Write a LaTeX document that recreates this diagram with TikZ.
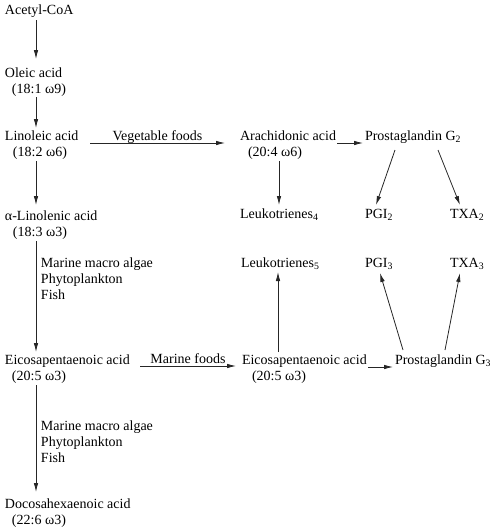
\documentclass[tikz,border=0pt]{standalone}
\usepackage{fontspec}
\setmainfont{Liberation Serif}
\usetikzlibrary{arrows.meta,calc}
\tikzset{
  lbl/.style={inner sep=0pt, outer sep=0pt, anchor=base west, align=left, font=\fontsize{14}{16}\selectfont},
  flbl/.style={inner sep=0pt, outer sep=0pt, anchor=base, yshift=3pt, font=\fontsize{14}{16}\selectfont},
  arr/.style={line width=0.8pt, draw=black!85, -{Latex[length=9pt,width=4.5pt]}},
}
\newcommand{\ind}[1]{\hspace*{#1pt}}
\begin{document}
\begin{tikzpicture}[x=1pt,y=-1pt]
\useasboundingbox (0,0) rectangle (497,528);
% left column (anchor = baseline of last line)
\node[lbl] (acetyl) at (5,14) {Acetyl-CoA};
\node[lbl] (oleic) at (5,93) {Oleic acid\\\ind{7}(18:1 ω9)};
\node[lbl] (linoleic) at (5,156) {Linoleic acid\\\ind{8}(18:2 ω6)};
\node[lbl] (alin) at (5,236) {α-Linolenic acid\\\ind{8}(18:3 ω3)};
\node[lbl] (src1) at (41,299) {Marine macro algae\\Phytoplankton\\Fish};
\node[lbl] (epa) at (5,380) {Eicosapentaenoic acid\\\ind{7}(20:5 ω3)};
\node[lbl] (src2) at (41,462) {Marine macro algae\\Phytoplankton\\Fish};
\node[lbl] (dha) at (5,524) {Docosahexaenoic acid\\\ind{7}(22:6 ω3)};
% right part
\node[lbl] (arach) at (240,156) {Arachidonic acid\\\ind{8}(20:4 ω6)};
\node[lbl] (pgg2) at (365,140) {Prostaglandin G\textsubscript{2}};
\node[lbl] (leuko4) at (240,218) {Leukotrienes\textsubscript{4}};
\node[lbl] (pgi2) at (365,218) {PGI\textsubscript{2}};
\node[lbl] (txa2) at (450,218) {TXA\textsubscript{2}};
\node[lbl] (leuko5) at (241,267) {Leukotrienes\textsubscript{5}};
\node[lbl] (pgi3) at (365,267) {PGI\textsubscript{3}};
\node[lbl] (txa3) at (450,267) {TXA\textsubscript{3}};
\node[lbl] (epar) at (242,380) {Eicosapentaenoic acid\\\ind{10}(20:5 ω3)};
\node[lbl] (pgg3) at (395,364) {Prostaglandin G\textsubscript{3}};
% vertical arrows, left column
\draw[arr] ($(acetyl.base west)+(31,6)$) -- ($(oleic.base west)+(31,-34)$);
\draw[arr] ($(oleic.base west)+(31,4)$) -- ($(linoleic.base west)+(31,-28)$);
\draw[arr] ($(linoleic.base west)+(31,5)$) -- ($(alin.base west)+(31,-31)$);
\draw[arr] ($(alin.base west)+(31,5)$) -- ($(epa.base west)+(31,-28)$);
\draw[arr] ($(epa.base west)+(31,5)$) -- ($(dha.base west)+(31,-32)$);
% horizontal arrows with food labels
\draw[arr] ($(linoleic.base west)+(85,-13)$) -- ($(arach.base west)+(-15,-13)$)
  node[flbl, midway] (veg) {Vegetable foods};
\draw[arr] ($(epa.base west)+(135,-14)$) -- ($(epar.base west)+(-6,-14)$)
  node[flbl, midway, yshift=-0.5pt] (mar) {Marine foods};
\draw[arr] ($(arach.base west)+(97,-13)$) -- ($(pgg2.base west)+(-2,3)$);
\draw[arr] ($(epar.base west)+(126,-13)$) -- ($(pgg3.base west)+(-2,3)$);
% arrows to leukotrienes
\draw[arr] ($(arach.base west)+(39,5)$) -- ($(leuko4.base west)+(39,-13)$);
\draw[arr] ($(epar.base west)+(36,-28)$) -- ($(leuko5.base west)+(37,5)$);
% prostaglandin branches
\draw[arr] ($(pgg2.base west)+(30,10)$) -- ($(pgi2.base west)+(11,-13)$);
\draw[arr] ($(pgg2.base west)+(73,10)$) -- ($(txa2.base west)+(10,-13)$);
\draw[arr] ($(pgg3.base west)+(8,-14)$) -- ($(pgi3.base west)+(15,6)$);
\draw[arr] ($(pgg3.base west)+(50,-14)$) -- ($(txa3.base west)+(10,6)$);
\end{tikzpicture}
\end{document}
